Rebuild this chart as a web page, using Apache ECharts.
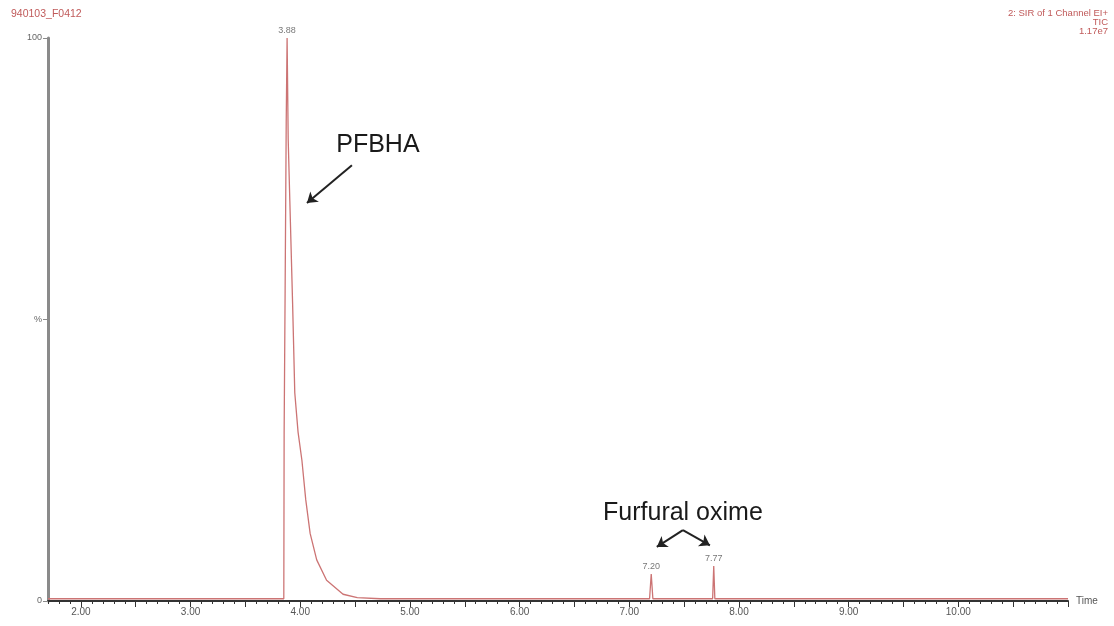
<!DOCTYPE html>
<html>
<head>
<meta charset="utf-8">
<script src="https://cdn.jsdelivr.net/npm/echarts@6/dist/echarts.min.js"></script>
<style>
html,body{margin:0;padding:0;background:#fff;}
#c{width:1114px;height:626px;}
</style>
</head>
<body>
<div id="c"></div>
<script>
// Retention time (min) and relative intensity (%)
const times = [1.70, 2.00, 2.50, 3.00, 3.50, 3.80, 3.850, 3.853, 3.862, 3.872, 3.880, 3.890, 3.905, 3.930, 3.950, 3.980, 4.015, 4.050, 4.090, 4.150, 4.240, 4.390, 4.520, 4.730, 5.00, 5.50, 6.00, 6.50, 7.00, 7.185, 7.200, 7.215, 7.50, 7.760, 7.770, 7.780, 8.00, 8.50, 9.00, 9.50, 10.00, 10.50, 11.00];
const intensity = [0.4, 0.4, 0.4, 0.4, 0.4, 0.4, 0.4, 30, 55, 85, 100, 82, 71, 53, 37, 30, 25, 18, 12, 7.3, 3.7, 1.2, 0.6, 0.4, 0.4, 0.4, 0.4, 0.4, 0.4, 0.4, 4.8, 0.4, 0.4, 0.4, 6.2, 0.4, 0.4, 0.4, 0.4, 0.4, 0.4, 0.4, 0.4];
const peakTimes = [3.88, 7.20, 7.77];
const peakValues = [100, 4.8, 6.2];
const yTickLabels = {0: '0', 50: '%', 100: '100'};
const headerRight = ['2: SIR of 1 Channel EI+', 'TIC', '1.17e7'];

const chart = echarts.init(document.getElementById('c'), null, {renderer: 'canvas'});
const FONT = 'Liberation Sans, Arial, sans-serif';
const traceColor = '#cc7474';
const X_MIN = 1.7, X_MAX = 11.0;
const GRID_L = 48, GRID_R = 46;
const pxPerMin = (1114 - GRID_L - GRID_R) / (X_MAX - X_MIN);

const option = {
  animation: false,
  backgroundColor: '#ffffff',
  title: [
    {text: '940103_F0412', left: 6, top: 4, textStyle: {fontFamily: FONT, fontSize: 10.5, fontWeight: 'normal', color: '#c05a5a'}}
  ],
  graphic: headerRight.map((t, i) => ({
    type: 'text', right: 6, top: 8 + i * 9,
    style: {text: t, fontFamily: FONT, fontSize: 9.5, fill: '#c05a5a'}
  })),
  grid: [
    {left: GRID_L, right: GRID_R, top: 38, bottom: 25, containLabel: false},
    {left: GRID_L + (2.0 - X_MIN) * pxPerMin, right: GRID_R, top: 38, bottom: 25, containLabel: false}
  ],
  xAxis: [{
    type: 'value', gridIndex: 0, min: X_MIN, max: X_MAX, interval: 0.1,
    name: 'Time', nameLocation: 'end', nameGap: 8,
    nameTextStyle: {fontFamily: FONT, fontSize: 10, color: '#555', verticalAlign: 'middle'},
    axisLine: {show: true, onZero: false, lineStyle: {color: '#333', width: 2}},
    axisTick: {show: true, inside: false, length: 3, lineStyle: {color: '#333', width: 1}},
    axisLabel: {show: true, margin: 6, fontFamily: FONT, fontSize: 10, color: '#555',
      formatter: function (v) { return (Math.abs(v - Math.round(v)) < 1e-6 && v < 10.5) ? Math.round(v).toFixed(2) : ''; }},
    splitLine: {show: false}
  }, {
    type: 'value', gridIndex: 1, min: 2.0, max: X_MAX, interval: 0.5, position: 'bottom',
    axisLine: {show: false},
    axisTick: {show: true, inside: false, length: 6, lineStyle: {color: '#333', width: 1}},
    axisLabel: {show: false},
    splitLine: {show: false}
  }],
  yAxis: [{
    type: 'value', gridIndex: 0, min: 0, max: 100, interval: 50,
    axisLine: {show: true, lineStyle: {color: '#8a8a8a', width: 3}},
    axisTick: {show: true, length: 5, lineStyle: {color: '#8a8a8a', width: 1}},
    axisLabel: {fontFamily: FONT, fontSize: 9, color: '#666', margin: 6,
      formatter: function (v) { return yTickLabels[Math.round(v)] !== undefined ? yTickLabels[Math.round(v)] : ''; }},
    splitLine: {show: false}
  }, {
    type: 'value', gridIndex: 1, min: 0, max: 100, show: false
  }],
  series: [
    {
      type: 'line', xAxisIndex: 0, yAxisIndex: 0, showSymbol: false, symbol: 'none',
      data: times.map((t, i) => [t, intensity[i]]),
      lineStyle: {color: traceColor, width: 1.3},
      z: 3
    },
    {
      type: 'scatter', xAxisIndex: 0, yAxisIndex: 0, symbolSize: 0,
      data: peakTimes.map((t, i) => [t, peakValues[i]]),
      label: {show: true, position: 'top', distance: 3, fontFamily: FONT, fontSize: 9, color: '#555',
        formatter: p => p.value[0].toFixed(2)},
      z: 4
    },
    {
      type: 'line', xAxisIndex: 0, yAxisIndex: 0, data: [], silent: true,
      markLine: {
        silent: true, symbol: ['none', 'arrow'], symbolSize: 10,
        lineStyle: {color: '#222', width: 2, type: 'solid'},
        label: {show: false},
        data: [
          [{coord: [4.471, 77.4]}, {coord: [4.061, 70.7]}],
          [{coord: [7.489, 12.6]}, {coord: [7.251, 9.6]}],
          [{coord: [7.489, 12.6]}, {coord: [7.735, 9.9]}]
        ]
      },
      markPoint: {
        silent: true, symbol: 'circle', symbolSize: 1, itemStyle: {color: 'rgba(0,0,0,0)'},
        label: {show: true, position: 'inside', formatter: '{b}', fontFamily: FONT, fontSize: 25, color: '#1a1a1a'},
        data: [
          {name: 'PFBHA', coord: [4.708, 81.0]},
          {name: 'Furfural oxime', coord: [7.489, 15.6]}
        ]
      }
    }
  ]
};
chart.setOption(option);
</script>
</body>
</html>
